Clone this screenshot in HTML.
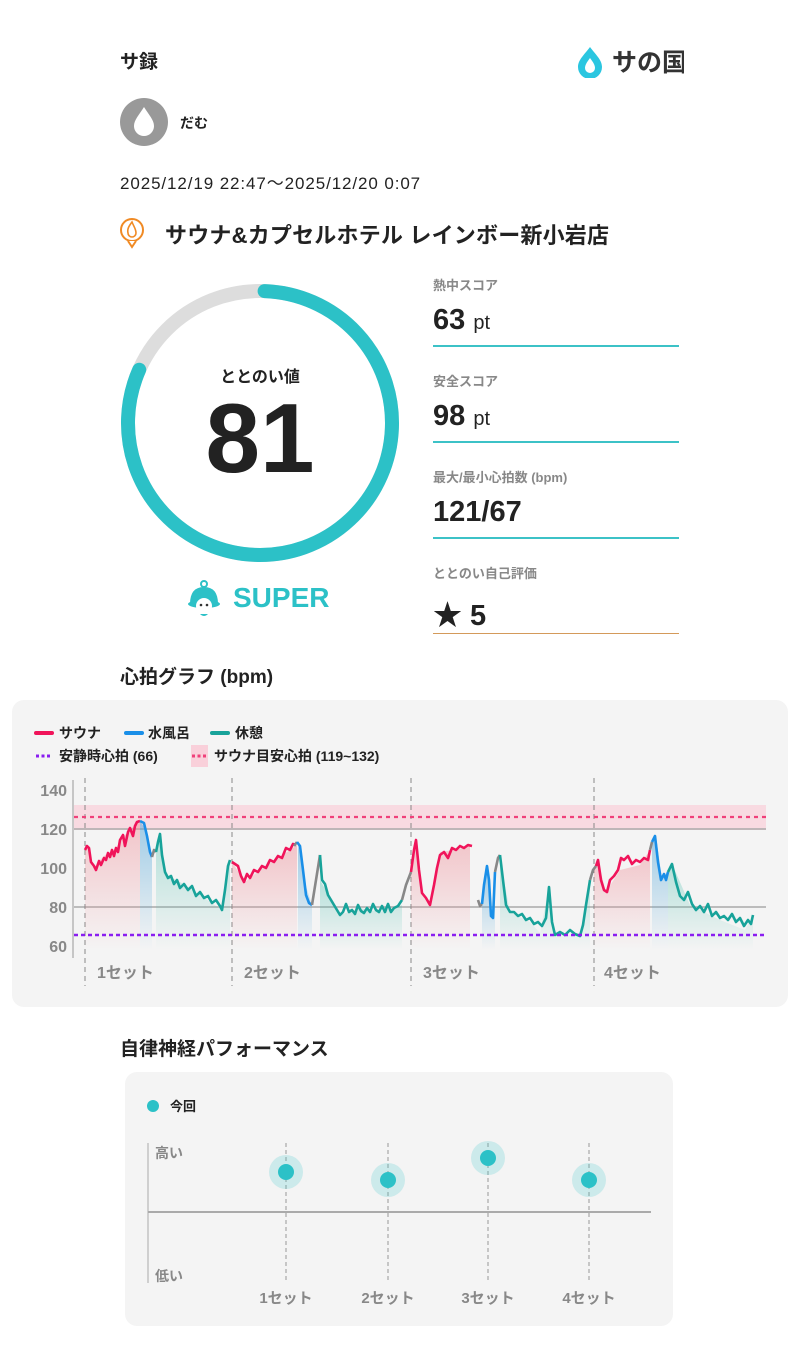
<!DOCTYPE html>
<html><head><meta charset="utf-8"><style>
*{margin:0;padding:0;box-sizing:border-box}
body{width:800px;height:1372px;background:#fff;font-family:"Liberation Sans","Noto Sans CJK JP",sans-serif;color:#222;position:relative;overflow:hidden}
.a{position:absolute;white-space:nowrap}
.lbl{font-size:13px;color:#888;font-weight:bold}
.val{font-size:29px;font-weight:bold}
.val small{font-size:20px;font-weight:500}
.ln{position:absolute;left:433px;width:246px;height:2px;background:#3cc2c7}
</style></head><body>
<div class="a" style="left:120px;top:47px;font-size:19px;font-weight:bold">サ録</div>
<svg class="a" style="left:574px;top:44px" width="110" height="34"><path d="M16 3 C10 11 4 16 4 23 a12 12 0 0 0 24 0 C28 16 22 11 16 3Z" fill="#2bc6e0"/><path d="M16 14 C13 18 11 21 11 24 a5 5 0 0 0 10 0 C21 21 19 18 16 14Z" fill="#fff"/><text x="38" y="27" font-size="25" font-weight="bold" fill="#333" font-family="Noto Sans CJK JP">サの国</text></svg>
<svg class="a" style="left:120px;top:98px" width="48" height="48"><circle cx="24" cy="24" r="24" fill="#999"/><path d="M24 9 C19 17 14 22 14 28 a10 10 0 0 0 20 0 C34 22 29 17 24 9Z" fill="#fff"/></svg>
<div class="a" style="left:180px;top:113px;font-size:14px;font-weight:bold">だむ</div>
<div class="a" style="left:120px;top:169px;font-size:17px;letter-spacing:0.9px">2025/12/19 22:47～2025/12/20 0:07</div>
<svg class="a" style="left:120px;top:214px" width="24" height="36"><circle cx="12" cy="16" r="11" fill="none" stroke="#f08a24" stroke-width="2"/><path d="M8 27 L12 33 L16 27" fill="#fff" stroke="#f08a24" stroke-width="2"/><path d="M12 8 C9 12 7 15 8 19 a4 4 0 0 0 8 0 C16 15 14 13 12 8Z" fill="none" stroke="#f08a24" stroke-width="1.6"/></svg>
<div class="a" style="left:165px;top:218px;font-size:22px;font-weight:bold;letter-spacing:0.2px">サウナ&amp;カプセルホテル レインボー新小岩店</div>

<svg class="a" style="left:110px;top:273px" width="300" height="300">
<circle cx="150" cy="150" r="132" fill="none" stroke="#ddd" stroke-width="14"/>
<circle cx="150" cy="150" r="132" fill="none" stroke="#2cc1c7" stroke-width="14" stroke-linecap="round" stroke-dasharray="672 1000" transform="rotate(-88 150 150)"/>
</svg>
<div class="a" style="left:160px;top:363px;width:200px;text-align:center;font-size:16px;font-weight:bold">ととのい値</div>
<div class="a" style="left:160px;top:385px;width:200px;text-align:center;font-size:98px;font-weight:bold;line-height:1.1">81</div>
<svg class="a" style="left:186px;top:580px" width="36" height="38"><circle cx="18" cy="4" r="3" fill="none" stroke="#2cc1c7" stroke-width="2"/><path d="M4 24 Q4 7 18 7 Q32 7 32 24Z" fill="#2cc1c7"/><ellipse cx="18" cy="24" rx="16" ry="4" fill="#2cc1c7"/><circle cx="18" cy="26" r="8" fill="#fff"/><circle cx="15" cy="25" r="1.3" fill="#333"/><circle cx="21" cy="25" r="1.3" fill="#333"/><path d="M14 34 Q18 38 22 34" fill="#2cc1c7"/></svg>
<div class="a" style="left:233px;top:582px;font-size:28px;font-weight:bold;color:#2cc1c7">SUPER</div>

<div class="a lbl" style="left:433px;top:275px">熱中スコア</div>
<div class="a val" style="left:433px;top:304px">63 <small>pt</small></div>
<div class="ln" style="top:345px"></div>
<div class="a lbl" style="left:433px;top:371px">安全スコア</div>
<div class="a val" style="left:433px;top:400px">98 <small>pt</small></div>
<div class="ln" style="top:441px"></div>
<div class="a lbl" style="left:433px;top:467px">最大/最小心拍数 (bpm)</div>
<div class="a val" style="left:433px;top:496px">121/67</div>
<div class="ln" style="top:537px"></div>
<div class="a lbl" style="left:433px;top:563px">ととのい自己評価</div>
<div class="a val" style="left:433px;top:592px">★ 5</div>
<div class="ln" style="top:633px;background:#d49a5a;height:1px"></div>

<div class="a" style="left:120px;top:662px;font-size:19px;font-weight:bold">心拍グラフ (bpm)</div>
<div class="a" style="left:12px;top:700px;width:776px;height:307px;background:#f4f4f4;border-radius:12px"></div>
<svg class="a" style="left:0;top:700px" width="800" height="310" viewBox="0 700 800 310" font-family="Liberation Sans,Noto Sans CJK JP,sans-serif">
<defs>
<linearGradient id="gr" x1="0" y1="0" x2="0" y2="1"><stop offset="0" stop-color="#f08a94" stop-opacity=".45"/><stop offset="1" stop-color="#f08a94" stop-opacity="0"/></linearGradient>
<linearGradient id="gb" x1="0" y1="0" x2="0" y2="1"><stop offset="0" stop-color="#4aa3d8" stop-opacity=".5"/><stop offset="1" stop-color="#4aa3d8" stop-opacity="0"/></linearGradient>
<linearGradient id="gt" x1="0" y1="0" x2="0" y2="1"><stop offset="0" stop-color="#3cbaa8" stop-opacity=".35"/><stop offset="1" stop-color="#3cbaa8" stop-opacity="0"/></linearGradient>
</defs>
<g font-size="14" font-weight="bold" fill="#222">
<line x1="36" y1="733" x2="52" y2="733" stroke="#f0145a" stroke-width="4" stroke-linecap="round"/><text x="59" y="738">サウナ</text>
<line x1="126" y1="733" x2="142" y2="733" stroke="#1a8fe8" stroke-width="4" stroke-linecap="round"/><text x="148" y="738">水風呂</text>
<line x1="212" y1="733" x2="228" y2="733" stroke="#18a39a" stroke-width="4" stroke-linecap="round"/><text x="235" y="738">休憩</text>
<line x1="36" y1="756" x2="52" y2="756" stroke="#8a1ef0" stroke-width="3" stroke-dasharray="3 2.5"/><text x="59" y="761">安静時心拍 (66)</text>
<rect x="191" y="745" width="17" height="22" fill="#f9d0da"/><line x1="192" y1="756" x2="208" y2="756" stroke="#f0407a" stroke-width="3" stroke-dasharray="3 2.5"/><text x="214" y="761">サウナ目安心拍 (119~132)</text>
</g>
<g font-size="16" font-weight="bold" fill="#888" text-anchor="end">
<text x="67" y="796">140</text><text x="67" y="835">120</text><text x="67" y="874">100</text><text x="67" y="913">80</text><text x="67" y="952">60</text></g>
<line x1="73" y1="780" x2="73" y2="958" stroke="#999" stroke-width="1"/>
<rect x="74" y="805" width="692" height="25" fill="#f9d3dc" opacity=".8"/>
<line x1="74" y1="829" x2="766" y2="829" stroke="#aaa" stroke-width="1.5"/>
<line x1="74" y1="907" x2="766" y2="907" stroke="#aaa" stroke-width="1.5"/>
<g stroke="#888" stroke-dasharray="5 4" stroke-width="1"><line x1="85" y1="778" x2="85" y2="986"/><line x1="232" y1="778" x2="232" y2="986"/><line x1="411" y1="778" x2="411" y2="986"/><line x1="594" y1="778" x2="594" y2="986"/></g>
<path d="M85 850 L88 846 L92 866 L96 868 L100 860 L105 855 L110 852 L116 848 L122 838 L128 832 L134 826 L138 821 L140 821 L140 950 L85 950Z" fill="url(#gr)"/>
<path d="M140 821 L146 830 L152 857 L152 950 L140 950Z" fill="url(#gb)"/>
<path d="M156 850 L160 834 L166 875 L180 882 L200 895 L222 910 L230 860 L230 950 L156 950Z" fill="url(#gt)"/>
<path d="M232 862 L245 882 L260 870 L275 860 L290 850 L297 845 L297 950 L232 950Z" fill="url(#gr)"/>
<path d="M298 843 L304 880 L312 905 L312 950 L298 950Z" fill="url(#gb)"/>
<path d="M320 880 L340 915 L360 908 L380 912 L402 905 L402 950 L320 950Z" fill="url(#gt)"/>
<path d="M411 860 L416 840 L423 895 L430 905 L440 852 L455 850 L470 846 L470 950 L411 950Z" fill="url(#gr)"/>
<path d="M482 905 L487 866 L492 918 L495 870 L495 950 L482 950Z" fill="url(#gb)"/>
<path d="M500 860 L510 912 L530 922 L540 933 L549 887 L555 935 L580 935 L590 880 L590 950 L500 950Z" fill="url(#gt)"/>
<path d="M594 870 L598 862 L606 892 L620 870 L640 865 L650 850 L650 950 L594 950Z" fill="url(#gr)"/>
<path d="M652 840 L656 836 L662 880 L668 870 L668 950 L652 950Z" fill="url(#gb)"/>
<path d="M668 870 L672 864 L690 905 L720 920 L745 930 L753 915 L753 950 L668 950Z" fill="url(#gt)"/>
<g fill="none" stroke-width="2.6" stroke-linejoin="round">
<polyline stroke="#f0145a" points="85,850 87,846 89,848 91,862 94,866 96,870 99,861 101,865 104,858 106,860 108,853 110,857 112,850 114,856 116,848 118,852 120,840 123,835 125,846 128,832 130,828 133,836 135,826 137,822 140,821"/>
<polyline stroke="#1a8fe8" points="140,821 144,823 147,836 150,852 152,857"/>
<polyline stroke="#888" points="152,857 154,850 156,852"/>
<polyline stroke="#18a39a" points="156,852 158,842 160,834 162,855 165,872 168,878 171,876 174,884 177,880 180,888 184,884 188,890 192,886 196,896 200,892 204,898 208,896 212,903 216,900 220,906 222,910 225,890 228,866 230,860"/>
<polyline stroke="#f0145a" points="232,862 235,864 238,866 241,876 244,882 247,874 250,878 254,870 258,872 262,866 266,868 270,860 274,862 278,856 282,858 286,848 290,850 293,844 296,845"/>
<polyline stroke="#888" points="294,846 297,842"/>
<polyline stroke="#1a8fe8" points="297,842 300,846 303,870 306,895 309,903 312,905"/>
<polyline stroke="#888" points="312,905 316,880 320,855"/>
<polyline stroke="#18a39a" points="320,855 322,880 325,884 328,895 331,900 334,905 337,910 340,915 343,912 346,904 349,912 352,910 355,914 358,905 361,911 364,913 367,908 370,912 373,904 376,910 379,912 382,906 385,912 388,904 391,912 394,908 398,906 402,900"/>
<polyline stroke="#888" points="402,900 406,885 411,872"/>
<polyline stroke="#f0145a" points="411,872 414,850 416,840 419,870 422,893 426,898 430,905 434,885 437,868 440,855 444,852 448,858 452,848 456,850 460,846 464,848 468,845 472,846"/>
<polyline stroke="#888" points="478,900 480,906 482,904"/>
<polyline stroke="#1a8fe8" points="482,904 484,885 487,866 489,880 491,916 493,918 495,872"/>
<polyline stroke="#888" points="495,872 498,858 500,855"/>
<polyline stroke="#18a39a" points="500,855 503,880 506,905 510,912 514,912 518,916 522,914 526,920 530,918 534,924 538,922 542,926 546,918 549,887 552,922 555,935 560,932 565,935 570,930 575,934 580,936 583,925 586,905 590,880"/>
<polyline stroke="#888" points="590,880 593,870 596,866"/>
<polyline stroke="#f0145a" points="596,866 598,860 601,880 604,890 607,892 610,880 614,876 618,870 621,858 624,860 628,856 632,864 636,860 640,862 644,858 648,860 650,850"/>
<polyline stroke="#888" points="650,850 652,842"/>
<polyline stroke="#1a8fe8" points="652,842 655,836 658,862 661,880 664,874 666,880 668,872"/>
<polyline stroke="#18a39a" points="668,872 672,864 676,882 680,896 684,900 688,892 692,904 696,910 700,906 704,912 708,904 712,916 716,912 720,918 724,916 728,920 732,914 736,922 740,918 744,926 748,920 751,924 753,915"/>
</g>
<line x1="74" y1="817" x2="766" y2="817" stroke="#f0407a" stroke-width="2.2" stroke-dasharray="4 4"/>
<line x1="74" y1="935" x2="766" y2="935" stroke="#8a1ef0" stroke-width="2.5" stroke-dasharray="4 3"/>
<g font-size="16" font-weight="bold" fill="#888"><text x="97" y="978">1セット</text><text x="244" y="978">2セット</text><text x="423" y="978">3セット</text><text x="604" y="978">4セット</text></g>
</svg>

<div class="a" style="left:120px;top:1034px;font-size:19px;font-weight:bold">自律神経パフォーマンス</div>
<div class="a" style="left:125px;top:1072px;width:548px;height:254px;background:#f4f4f4;border-radius:12px"></div>
<svg class="a" style="left:0;top:1072px" width="800" height="260" viewBox="0 1072 800 260" font-family="Liberation Sans,Noto Sans CJK JP,sans-serif">
<circle cx="153" cy="1106" r="6" fill="#2cc1c7"/><text x="170" y="1111" font-size="13" font-weight="bold" fill="#222">今回</text>
<line x1="148" y1="1143" x2="148" y2="1283" stroke="#aaa"/>
<line x1="148" y1="1212" x2="651" y2="1212" stroke="#aaa" stroke-width="2"/>
<text x="155" y="1158" font-size="14" font-weight="bold" fill="#888">高い</text>
<text x="155" y="1281" font-size="14" font-weight="bold" fill="#888">低い</text>
<g stroke="#999" stroke-dasharray="4 3"><line x1="286" y1="1143" x2="286" y2="1283"/><line x1="388" y1="1143" x2="388" y2="1283"/><line x1="488" y1="1143" x2="488" y2="1283"/><line x1="589" y1="1143" x2="589" y2="1283"/></g>
<g fill="#2cc1c7"><circle cx="286" cy="1172" r="17" opacity=".2"/><circle cx="286" cy="1172" r="8"/>
<circle cx="388" cy="1180" r="17" opacity=".2"/><circle cx="388" cy="1180" r="8"/>
<circle cx="488" cy="1158" r="17" opacity=".2"/><circle cx="488" cy="1158" r="8"/>
<circle cx="589" cy="1180" r="17" opacity=".2"/><circle cx="589" cy="1180" r="8"/></g>
<g font-size="15" font-weight="bold" fill="#888" text-anchor="middle"><text x="286" y="1303">1セット</text><text x="388" y="1303">2セット</text><text x="488" y="1303">3セット</text><text x="589" y="1303">4セット</text></g>
</svg>
</body></html>
